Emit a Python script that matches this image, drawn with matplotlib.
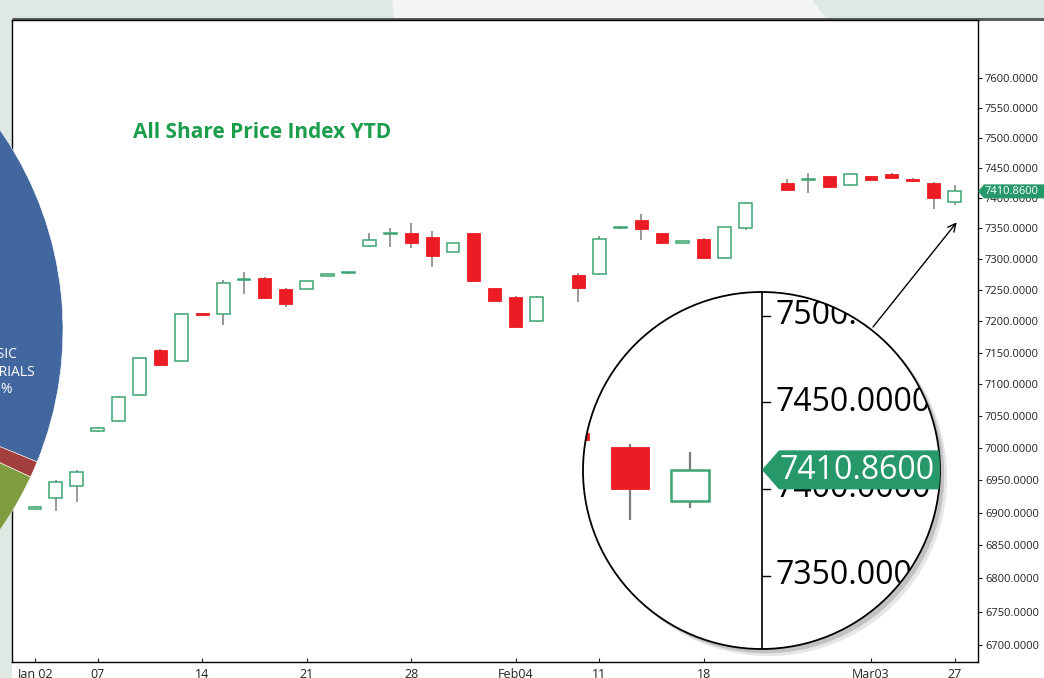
import numpy as np
import matplotlib.pyplot as plt
from matplotlib.patches import Rectangle, Polygon, Circle, Wedge
from matplotlib.ticker import FormatStrFormatter, NullLocator

plt.rcParams['font.family'] = ['Open Sans', 'DejaVu Sans']

W, H = 1044, 678

# trading-day index of each candle (two sessions are missing in the source chart)
day = list(range(0, 25)) + list(range(26, 35)) + list(range(36, 45))
opens = [6906, 6923, 6941, 7027, 7042, 7083, 7154, 7137, 7213, 7212,
         7266, 7270, 7252, 7251, 7273, 7277, 7322, 7341, 7342, 7336,
         7312, 7342, 7253, 7239, 7200,
         7274, 7276, 7350, 7364, 7342, 7327, 7333, 7302, 7351,
         7425, 7429, 7436, 7421, 7436, 7440, 7432, 7424, 7393]
highs = [6910, 6951, 6966, 7033, 7081, 7143, 7155, 7213, 7214, 7266,
         7279, 7271, 7253, 7265, 7277, 7280, 7343, 7350, 7359, 7346,
         7327, 7343, 7254, 7240, 7240,
         7277, 7337, 7353, 7373, 7343, 7330, 7334, 7353, 7393,
         7431, 7441, 7437, 7441, 7437, 7441, 7433, 7426, 7421]
lows = [6905, 6902, 6916, 7025, 7041, 7082, 7129, 7136, 7209, 7194,
        7244, 7236, 7223, 7250, 7272, 7276, 7320, 7319, 7318, 7288,
        7311, 7264, 7232, 7190, 7199,
        7231, 7275, 7349, 7331, 7325, 7326, 7301, 7301, 7348,
        7412, 7408, 7417, 7420, 7429, 7432, 7427, 7382, 7389]
closes = [6909, 6947, 6963, 7031, 7080, 7142, 7130, 7212, 7210, 7262,
          7268, 7237, 7228, 7264, 7276, 7279, 7331, 7343, 7326, 7305,
          7326, 7265, 7233, 7191, 7239,
          7253, 7333, 7352, 7349, 7326, 7329, 7302, 7352, 7392,
          7413, 7431, 7418, 7440, 7430, 7433, 7428, 7400, 7410.86]

tick_pos = [0, 3, 8, 13, 18, 23, 27, 32, 40, 44]
tick_lab = ['Jan 02', '07', '14', '21', '28', 'Feb04', '11', '18', 'Mar03', '27']
y_ticks = list(range(6700, 7601, 50))
mag_ticks = [7350, 7400, 7450, 7500]
last_price = closes[-1]

# pie slice that sticks in from the left of the page (angles in degrees)
pie_edges = [-90, 22.2, 24.9, 90]
pie_colors = ['#41679e', '#a23f3d', '#7f9c3f']

red = '#ec1c24'
green = '#3ca56f'
wick = '#7c7c7c'
tag_green = '#27986a'


def draw_candles(a, width, lw_edge, lw_wick, clip=None):
    arts = []
    for x, o, h, l, c in zip(day, opens, highs, lows, closes):
        arts.append(a.vlines(x, l, h, color=wick, lw=lw_wick, zorder=2))
        if c >= o:
            r = Rectangle((x - width / 2, o), width, c - o, fc='white',
                          ec=green, lw=lw_edge, zorder=3)
        else:
            r = Rectangle((x - width / 2, c), width, o - c, fc=red,
                          ec=red, lw=0.6, zorder=3)
        a.add_patch(r)
        arts.append(r)
    if clip is not None:
        for art in arts:
            art.set_clip_path(clip)


fig = plt.figure(figsize=(W / 100, H / 100), dpi=100)
fig.patch.set_facecolor('#dde9e2')

# page background
bg = fig.add_axes([0, 0, 1, 1], zorder=0)
bg.set_xlim(0, W)
bg.set_ylim(H, 0)
bg.axis('off')
bg.add_patch(Polygon([(392, 0), (812, 0), (826, 18), (394, 18)], closed=True,
                     fc='#f4f6f5', ec='none'))
bg.add_patch(Rectangle((12, 19), W - 12, H - 19, fc='white', ec='none'))
bg.plot([12, W], [19, 19], color='#5c5c5c', lw=2.2, solid_capstyle='butt')

# main chart
ax = fig.add_axes([12 / W, 16 / H, 966 / W, 642 / H], zorder=3)
ax.set_yscale('log')
ax.set_xlim(-1.1, 45.12)
ax.set_ylim(6674.8, 7698.6)
draw_candles(ax, 0.62, 1.1, 1.1)

ax.yaxis.tick_right()
ax.set_yticks(y_ticks)
ax.yaxis.set_major_formatter(FormatStrFormatter('%.4f'))
ax.yaxis.set_minor_locator(NullLocator())
ax.tick_params(axis='y', direction='out', length=3, width=0.8, pad=2,
               labelsize=8, colors='#222222')
ax.set_xticks(tick_pos)
ax.set_xticklabels(tick_lab)
ax.tick_params(axis='x', direction='in', length=3, width=0.8, pad=4,
               labelsize=9, colors='#222222')
for s in ax.spines.values():
    s.set_linewidth(1.0)
    s.set_color('black')
ax.text(0.1253, 0.824, 'All Share Price Index YTD', transform=ax.transAxes,
        va='center', ha='left', fontsize=15, fontweight='bold', color='#1b9e4b')

# magnifier lens
cx, cy, rad = 761.5, 470.5, 178.5
mag = fig.add_axes([(cx - rad) / W, (H - cy - rad) / H, 2 * rad / W, 2 * rad / H],
                   zorder=4)
mag.axis('off')
mag.patch.set_visible(False)
mag.set_xlim(42.217, 48.167)
mag.set_yscale('log')
mag.set_ylim(7308.4, 7514.0)
lens = Circle((0.5, 0.5), 0.5, transform=mag.transAxes, fc='white', ec='none', zorder=0)
mag.add_patch(lens)
draw_candles(mag, 0.63, 1.8, 1.6, clip=lens)
ln = mag.axvline(45.2, color='black', lw=1.2, zorder=4)
ln.set_clip_path(lens)
for t in mag_ticks:
    tl, = mag.plot([45.2, 45.333], [t, t], color='black', lw=1.0, zorder=4)
    tl.set_clip_path(lens)
    mag.text(45.433, t, '%.4f' % t, fontsize=23, va='center', ha='left',
             color='black', zorder=5, clip_on=False)

# overlay in page pixels (y down)
ov = fig.add_axes([0, 0, 1, 1], zorder=5)
ov.set_xlim(0, W)
ov.set_ylim(H, 0)
ov.axis('off')
ov.patch.set_visible(False)


def px(a, x, y):
    X, Y = a.transData.transform((x, y))
    return X, H - Y


# hide lens text that runs past the rim
th = np.radians(np.linspace(90, -90, 181))
rim = [(cx + rad * np.cos(t), cy + rad * np.sin(t)) for t in th]
cover = [(cx + 0.5, cy - rad - 8), (975, cy - rad - 8), (975, cy + rad + 8),
         (cx + 0.5, cy + rad + 8)] + rim
ov.add_patch(Polygon(cover, closed=True, fc='white', ec='none', zorder=1))

# lens shadow (crescent on lower right)
for d, col in [(10, '#e6e6e6'), (6, '#c2c2c2')]:
    phi = np.radians(45)
    al = np.arccos(-d / (2 * rad))
    be = np.arccos(d / (2 * rad))
    ox, oy = cx + d * np.cos(phi), cy + d * np.sin(phi)
    t1 = np.linspace(phi - al, phi + al, 120)
    t2 = np.linspace(phi + be, phi - be, 120)
    pts = [(ox + rad * np.cos(t), oy + rad * np.sin(t)) for t in t1] + \
          [(cx + rad * np.cos(t), cy + rad * np.sin(t)) for t in t2]
    ov.add_patch(Polygon(pts, closed=True, fc=col, ec='none', zorder=2))
ov.add_patch(Circle((cx, cy), rad, fc='none', ec='black', lw=1.3, zorder=3))

# price tags
mx, my = px(mag, 45.2, last_price)
tag = Polygon([(mx, my), (mx + 17, my - 19.5), (mx + 260, my - 19.5),
               (mx + 260, my + 19.5), (mx + 17, my + 19.5)], closed=True,
              fc=tag_green, ec='none', zorder=4)
ov.add_patch(tag)
tag.set_clip_path(lens)
ov.text(mx + 18, my + 1, '%.4f' % last_price, fontsize=23, color='white',
        va='center', ha='left', zorder=5)

sx, sy = px(ax, ax.get_xlim()[1], last_price)
ov.add_patch(Polygon([(sx, sy), (sx + 6, sy - 7), (W, sy - 7), (W, sy + 7),
                      (sx + 6, sy + 7)], closed=True, fc=tag_green, ec='none', zorder=4))
ov.text(sx + 6.5, sy, '%.4f' % last_price, fontsize=8, color='white',
        va='center', ha='left', zorder=5)

# arrow from lens to last candle
ov.annotate('', xy=px(ax, 44.1, 7360), xytext=(873, 327),
            arrowprops=dict(arrowstyle='->', color='black', lw=1.0,
                            mutation_scale=14, shrinkA=0, shrinkB=0),
            zorder=6)

# pie slice on the left
pc = (-286, 330)
for k, col in enumerate(pie_colors):
    ov.add_patch(Wedge(pc, 349, pie_edges[k], pie_edges[k + 1], fc=col,
                       ec='white', lw=0.4, zorder=1))
ov.text(-1, 372, 'BASIC\nMATERIALS\n48%', color='white', fontsize=10,
        ha='center', va='center', multialignment='center', zorder=2)

fig.savefig('out.png', dpi=100, facecolor=fig.get_facecolor())
